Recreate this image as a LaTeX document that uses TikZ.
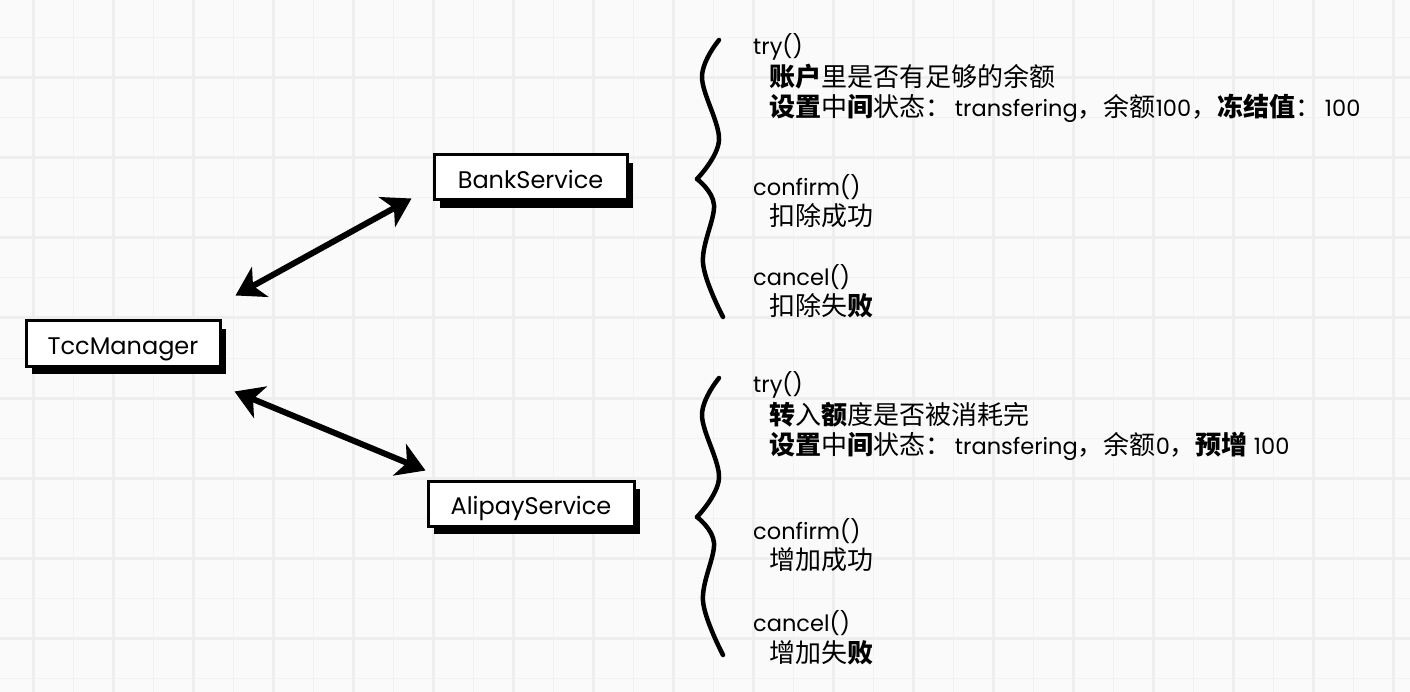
\documentclass[tikz,border=0pt]{standalone}
\usepackage{fontspec}
\setmainfont{Poppins}
\newfontfamily\cjk{Noto Sans CJK SC}
\usetikzlibrary{shadows,arrows.meta}
\definecolor{bgc}{HTML}{FAFAFA}
\definecolor{gthin}{HTML}{F2F2F2}
\definecolor{gthick}{HTML}{EEEEEE}
\newcommand\zh[1]{{\cjk\fontsize{26}{30}\selectfont #1}}
\newcommand\zb[1]{{\cjk\bfseries\fontsize{26}{30}\selectfont #1}}
\tikzset{
  svcbox/.style={draw=black, line width=3pt, fill=white, inner sep=0pt,
    minimum height=45pt, text height=22pt, text depth=0pt,
    font=\fontsize{24}{28}\selectfont,
    drop shadow={shadow xshift=6pt, shadow yshift=-8pt, opacity=1, fill=black}},
  dbl/.style={line width=6pt, {Stealth[length=28pt,width=34pt,inset=8pt]}-{Stealth[length=28pt,width=34pt,inset=8pt]}},
  brace/.style={line width=4.5pt, line cap=round, line join=round},
  rt/.style={anchor=west, inner sep=0pt, font=\fontsize{22.5}{26}\selectfont},
  gridthin/.style={draw=gthin, line width=1pt},
  gridthick/.style={draw=gthick, line width=3pt}
}
\begin{document}
\begin{tikzpicture}[x=1pt,y=-1pt]
\useasboundingbox (0,0) rectangle (1410,692);
\fill[bgc] (0,0) rectangle (1410,692);
\foreach \x in {73,153,...,1410} \draw[gridthin] (\x,0) -- (\x,692);
\foreach \y in {38,118,...,692} \draw[gridthin] (0,\y) -- (1410,\y);
\foreach \x in {33,113,...,1410} \draw[gridthick] (\x,0) -- (\x,692);
\foreach \y in {78,158,...,692} \draw[gridthick] (0,\y) -- (1410,\y);

\node[svcbox, minimum width=194pt] (tcc) at (123,343.5) {TccManager};
\node[svcbox, minimum width=193pt] (bank) at (530.5,177.5) {BankService};
\node[svcbox, minimum width=206pt] (ali) at (531,503.5) {AlipayService};

\draw[dbl] ([shift={(14,-24)}]tcc.north east) -- ([shift={(-21,-3)}]bank.south west);
\draw[dbl] ([shift={(13,24)}]tcc.south east) -- ([shift={(-1,-9)}]ali.north west);

\draw[brace] plot[smooth, tension=0.6] coordinates {(719,40) (702,77) (719,140) (697,179)};
\draw[brace] plot[smooth, tension=0.6] coordinates {(697,179) (714,205) (703,263) (723,317)};
\draw[brace] plot[smooth, tension=0.6] coordinates {(719,378) (702,415) (719,478) (697,517)};
\draw[brace] plot[smooth, tension=0.6] coordinates {(697,517) (714,543) (703,601) (723,655)};

\node[rt] (t1) at (753,47) {try()};
\node[rt] (t1a) at (769,77) {\zb{账户}\zh{里是否有足够的余额}};
\node[rt] (t1b) at (769,108) {\zb{设置}\zh{中}\zb{间}\zh{状态：}\,transfering\zh{，余额}100\zh{，}\zb{冻结值}\zh{：}\,100};
\node[rt] (c1) at (753,187) {confirm()};
\node[rt] (c1a) at (769,216) {\zh{扣除成功}};
\node[rt] (k1) at (753,277) {cancel()};
\node[rt] (k1a) at (769,306) {\zh{扣除失}\zb{败}};

\node[rt] (t2) at (753,385) {try()};
\node[rt] (t2a) at (769,415) {\zb{转}\zh{入}\zb{额}\zh{度是否被消耗完}};
\node[rt] (t2b) at (769,446) {\zb{设置}\zh{中}\zb{间}\zh{状态：}\,transfering\zh{，余额}0\zh{，}\zb{预增} 100};
\node[rt] (c2) at (753,531) {confirm()};
\node[rt] (c2a) at (769,560) {\zh{增加成功}};
\node[rt] (k2) at (753,623) {cancel()};
\node[rt] (k2a) at (769,653) {\zh{增加失}\zb{败}};
\end{tikzpicture}
\end{document}
